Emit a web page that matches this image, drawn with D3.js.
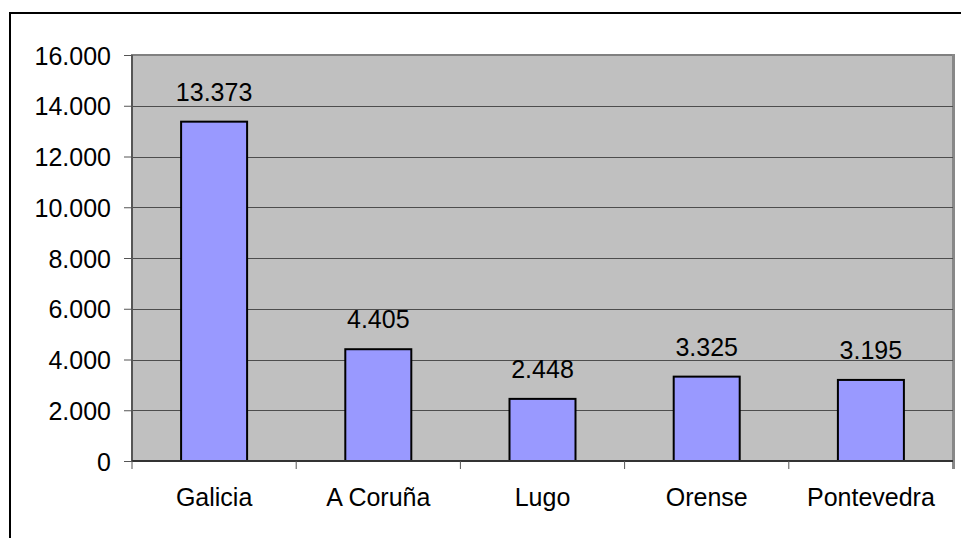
<!DOCTYPE html>
<html>
<head>
<meta charset="utf-8">
<script src="https://cdn.jsdelivr.net/npm/d3@7"></script>
<style>
  body { margin: 0; background: #fff; }
  svg text { font-family: "Liberation Sans", Arial, sans-serif; fill: #000; }
</style>
</head>
<body>
<script>
var categories = ["Galicia", "A Coruña", "Lugo", "Orense", "Pontevedra"];
var values = [13373, 4405, 2448, 3325, 3195];
var yTicks = [0, 2000, 4000, 6000, 8000, 10000, 12000, 14000, 16000];
var yTickLabels = ["0", "2.000", "4.000", "6.000", "8.000", "10.000", "12.000", "14.000", "16.000"];

var W = 961, H = 538;
var plot = { left: 132, top: 55, right: 953, bottom: 461 };
var fontSize = "25px";

var svg = d3.select("body").append("svg")
    .attr("width", W)
    .attr("height", H);

// outer chart border (runs off the right/bottom edge)
svg.append("rect")
    .attr("x", 10).attr("y", 13)
    .attr("width", W + 10).attr("height", H + 10)
    .attr("fill", "#fff")
    .attr("stroke", "#000")
    .attr("stroke-width", 2);

var x = d3.scaleBand()
    .domain(categories)
    .range([plot.left, plot.right])
    .paddingInner(0)
    .paddingOuter(0);

var y = d3.scaleLinear()
    .domain([0, 16000])
    .range([plot.bottom, plot.top]);

// plot area
svg.append("rect")
    .attr("x", plot.left).attr("y", plot.top)
    .attr("width", plot.right - plot.left)
    .attr("height", plot.bottom - plot.top)
    .attr("fill", "#c0c0c0")
    .attr("stroke", "#808080")
    .attr("stroke-width", 2);
// thicker grey right edge, drops a bit below the axis
svg.append("line")
    .attr("x1", plot.right + 0.5).attr("x2", plot.right + 0.5)
    .attr("y1", plot.top - 1).attr("y2", plot.bottom + 8)
    .attr("stroke", "#888").attr("stroke-width", 3);

// gridlines
svg.append("g")
    .selectAll("line")
    .data(yTicks.slice(1, -1))
    .enter().append("line")
    .attr("x1", plot.left).attr("x2", plot.right)
    .attr("y1", function (d) { return Math.round(y(d)) + 0.5; })
    .attr("y2", function (d) { return Math.round(y(d)) + 0.5; })
    .attr("stroke", "#4d4d4d")
    .attr("stroke-width", 1);

// bars
var bw = 66;
svg.append("g")
    .selectAll("rect")
    .data(values)
    .enter().append("rect")
    .attr("x", function (d, i) { return x(categories[i]) + x.bandwidth() / 2 - bw / 2; })
    .attr("y", function (d) { return y(d); })
    .attr("width", bw)
    .attr("height", function (d) { return y(0) - y(d); })
    .attr("fill", "#9999ff")
    .attr("stroke", "#000")
    .attr("stroke-width", 2);

// value labels
svg.append("g")
    .selectAll("text")
    .data(values)
    .enter().append("text")
    .attr("x", function (d, i) { return x(categories[i]) + x.bandwidth() / 2; })
    .attr("y", function (d) { return y(d) - 21; })
    .attr("text-anchor", "middle")
    .style("font-size", fontSize)
    .text(function (d) { return d3.format(",")(d).replace(/,/g, "."); });

// y axis
var yAxis = d3.axisLeft(y)
    .tickValues(yTicks)
    .tickFormat(function (d, i) { return yTickLabels[i]; })
    .tickSize(8)
    .tickPadding(13);

var gY = svg.append("g")
    .attr("transform", "translate(" + plot.left + ",0)")
    .call(yAxis);
gY.select(".domain").attr("stroke", "#555").attr("stroke-width", 2).attr("d", "M0," + plot.top + "V" + plot.bottom);
gY.selectAll(".tick line").attr("stroke", "#555");
gY.selectAll(".tick text")
    .attr("dy", "0.36em")
    .style("font-size", fontSize)
    .style("font-family", "Liberation Sans, Arial, sans-serif")
    .attr("fill", "#000");

// x axis
var gX = svg.append("g")
    .attr("transform", "translate(0," + plot.bottom + ")");
gX.append("line")
    .attr("x1", plot.left).attr("x2", plot.right)
    .attr("y1", 0).attr("y2", 0)
    .attr("stroke", "#333").attr("stroke-width", 2);
gX.selectAll(".sep")
    .data(categories)
    .enter().append("line")
    .attr("class", "sep")
    .attr("x1", function (d) { return x(d); })
    .attr("x2", function (d) { return x(d); })
    .attr("y1", 0).attr("y2", 8)
    .attr("stroke", "#555");
gX.selectAll("text")
    .data(categories)
    .enter().append("text")
    .attr("x", function (d) { return x(d) + x.bandwidth() / 2; })
    .attr("y", 45)
    .attr("text-anchor", "middle")
    .style("font-size", fontSize)
    .text(function (d) { return d; });
</script>
</body>
</html>
